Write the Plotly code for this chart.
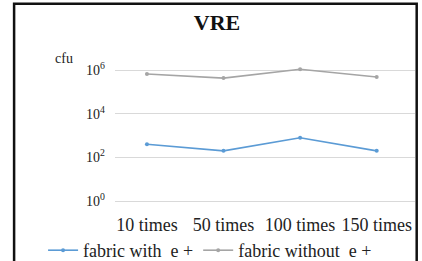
import plotly.graph_objects as go

categories = ["10 times", "50 times", "100 times", "150 times"]
with_e = [400, 200, 800, 200]
without_e = [660000, 430000, 1100000, 480000]
tick_vals = [1, 100, 10000, 1000000]
tick_text = ["10<sup>0</sup>", "10<sup>2</sup>", "10<sup>4</sup>", "10<sup>6</sup>"]

W, H = 422, 261
ml, mr, mt, mb = 115, 6.7, 57, 49.4
pw = W - ml - mr
ph = H - mt - mb

def px2x(p):
    return (p - ml) / pw

def px2y(p):
    return (H - mb - p) / ph

fig = go.Figure()
fig.add_trace(go.Scatter(x=categories, y=with_e, name="fabric with  e +",
                         mode="lines+markers",
                         line=dict(color="#5b9bd5", width=1.6),
                         marker=dict(size=4, color="#5b9bd5")))
fig.add_trace(go.Scatter(x=categories, y=without_e, name="fabric without  e +",
                         mode="lines+markers",
                         line=dict(color="#a5a5a5", width=1.6),
                         marker=dict(size=4, color="#a5a5a5")))

font = "Liberation Serif"
fig.update_layout(
    width=W, height=H,
    margin=dict(l=ml, r=mr, t=mt, b=mb, autoexpand=False),
    paper_bgcolor="white", plot_bgcolor="white",
    font=dict(family=font, size=18, color="#222222"),
    title=dict(text="<b>VRE</b>", x=217 / W, xanchor="center",
               y=1 - 22 / H, yanchor="middle",
               font=dict(family=font, size=22, color="#111111")),
    showlegend=True,
    legend=dict(orientation="h", x=px2x(43), xref="paper", xanchor="left",
                y=px2y(250), yref="paper", yanchor="middle",
                font=dict(family=font, size=18, color="#222222"),
                itemwidth=30, tracegroupgap=0),
    xaxis=dict(type="category", range=[-0.417, 3.5], showgrid=False,
               showline=False, ticks="", tickfont=dict(size=18)),
    yaxis=dict(type="log", range=[-0.5, 6.6], tickvals=tick_vals,
               ticktext=tick_text, showgrid=True, gridcolor="#d9d9d9",
               gridwidth=1, showline=False, ticks="", zeroline=False,
               tickfont=dict(size=14), ticklabelstandoff=9),
    shapes=[dict(type="rect", xref="paper", yref="paper",
                 x0=px2x(14), x1=px2x(417), y0=px2y(300), y1=px2y(4),
                 line=dict(color="#111111", width=2.5), layer="above")],
    annotations=[dict(text="cfu", xref="paper", yref="paper",
                      x=px2x(64), y=px2y(58), showarrow=False,
                      xanchor="center", yanchor="middle",
                      font=dict(family=font, size=14, color="#222222"))],
)

fig.write_html("out.html", config={"displayModeBar": False},
               post_script="document.body.style.margin='0';")
